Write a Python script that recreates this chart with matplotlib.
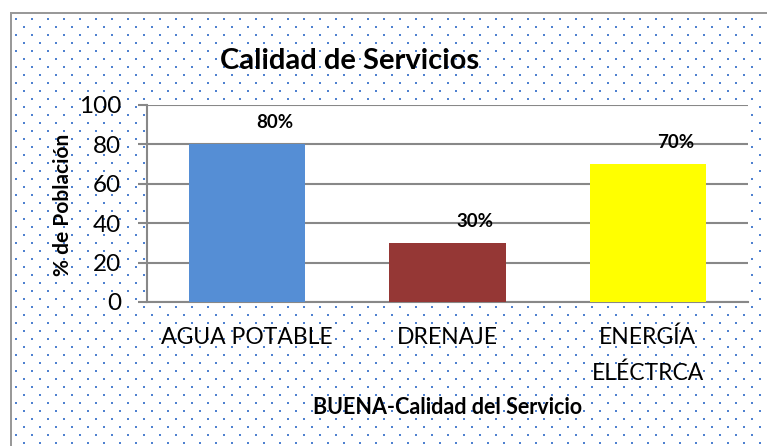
import numpy as np
import matplotlib.pyplot as plt

plt.rcParams['font.family'] = ['Lato', 'DejaVu Sans']

# Datos del gráfico
servicios = ['AGUA POTABLE', 'DRENAJE', 'ENERGÍA\nELÉCTRCA']
porcentajes = [80, 30, 70]
etiquetas = ['80%', '30%', '70%']
colores = ['#558ed5', '#953735', '#ffff00']
yticks = [0, 20, 40, 60, 80, 100]

W, H = 767, 446
fig = plt.figure(figsize=(W / 100, H / 100), dpi=100)

# Fondo punteado (patrón de relleno del área del gráfico)
fondo = np.ones((H, W, 3))
azul = np.array([0x4f, 0x81, 0xd0]) / 255
for y in range(18, H, 8):
    x0 = 15 if ((y - 18) // 8) % 2 == 0 else 7
    for x in range(x0, W, 16):
        if x > 12:
            fondo[y:y + 2, x:x + 2] = azul
gris = np.array([0.6, 0.6, 0.6])
fondo[12:14, 10:] = gris
fondo[12:, 10:12] = gris

ax_bg = fig.add_axes([0, 0, 1, 1], zorder=0)
ax_bg.imshow(fondo, aspect='auto', interpolation='nearest')
ax_bg.axis('off')

# Área de trazado
ax = fig.add_axes([147 / W, 1 - 302 / H, (748 - 147) / W, (302 - 105) / H], zorder=1)
x = np.arange(len(servicios))
ax.bar(x, porcentajes, width=0.58, color=colores, zorder=3)
for xi, v, t in zip(x, porcentajes, etiquetas):
    ax.annotate(t, (xi, v), xytext=(20, 15.5), textcoords='offset points',
                ha='center', va='center', fontsize=13.5, fontweight='bold')

ax.set_xlim(-0.5, 2.5)
ax.set_ylim(0, 100)
ax.set_yticks(yticks)
ax.set_xticks(x)
ax.set_xticklabels(servicios, fontsize=16.5, linespacing=1.8)
ax.tick_params(axis='x', length=0, pad=18)
ax.tick_params(axis='y', length=6.5, width=1.5, color='#888888', pad=12, labelsize=17.5)
ax.grid(axis='y', color='#888888', linewidth=1.5, zorder=0)
for s in ['top', 'right']:
    ax.spines[s].set_visible(False)
for s in ['left', 'bottom']:
    ax.spines[s].set_color('#888888')
    ax.spines[s].set_linewidth(1.5)

fig.text(350 / W, 1 - 61 / H, 'Calidad de Servicios', ha='center', va='center',
         fontsize=21, fontweight='bold')
fig.text(63 / W, 1 - 205 / H, '% de Población', ha='center', va='center',
         rotation=90, fontsize=15, fontweight='bold')
fig.text(448 / W, 1 - 408 / H, 'BUENA-Calidad del Servicio', ha='center', va='center',
         fontsize=15.5, fontweight='bold')

fig.savefig('out.png', dpi=100)
